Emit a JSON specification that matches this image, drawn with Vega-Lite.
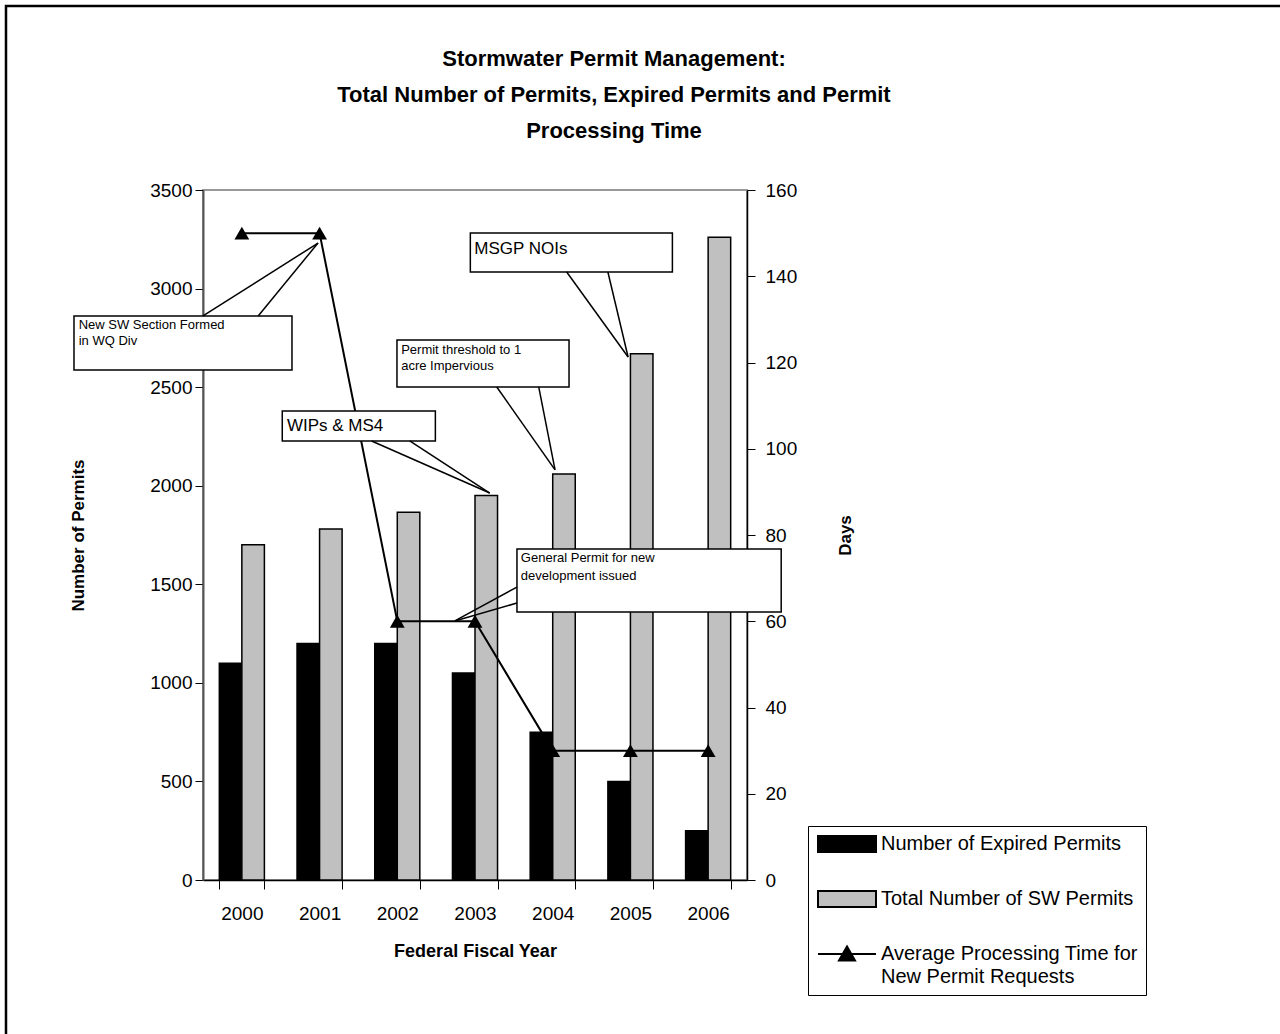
{
  "$schema": "https://vega.github.io/schema/vega-lite/v6.json",
  "width": 544,
  "height": 690,
  "autosize": {"type": "none"},
  "padding": {"left": 203, "top": 190, "right": 533, "bottom": 154},
  "background": "white",
  "title": {
    "text": ["Stormwater Permit Management:", "Total Number of Permits, Expired Permits and Permit", "Processing Time"],
    "fontSize": 22, "fontWeight": "bold", "font": "Liberation Sans", "color": "black",
    "anchor": "middle", "frame": "group", "dx": 139, "dy": 160, "baseline": "bottom", "lineHeight": 36, "offset": 0
  },
  "config": {
    "font": "Liberation Sans",
    "view": {"stroke": "#999999", "strokeWidth": 2},
    "axis": {"labelColor": "black", "titleColor": "black", "tickColor": "black", "domainColor": "black", "grid": false, "labelFont": "Liberation Sans", "titleFont": "Liberation Sans"},
    "legend": {
      "orient": "none", "legendX": 605, "legendY": 636, "title": null,
      "fillColor": "white", "strokeColor": "black", "padding": 8,
      "symbolSize": 256, "symbolStrokeColor": "black", "symbolStrokeWidth": 2,
      "labelFontSize": 20, "labelFont": "Liberation Sans", "labelColor": "black", "labelLimit": 500,
      "rowPadding": 31, "labelOffset": 45
    }
  },
  "datasets": {
    "main": [
      {"year": "2000", "series": "Number of Expired Permits", "value": 1100},
      {"year": "2001", "series": "Number of Expired Permits", "value": 1200},
      {"year": "2002", "series": "Number of Expired Permits", "value": 1200},
      {"year": "2003", "series": "Number of Expired Permits", "value": 1050},
      {"year": "2004", "series": "Number of Expired Permits", "value": 750},
      {"year": "2005", "series": "Number of Expired Permits", "value": 500},
      {"year": "2006", "series": "Number of Expired Permits", "value": 250},
      {"year": "2000", "series": "Total Number of SW Permits", "value": 1700},
      {"year": "2001", "series": "Total Number of SW Permits", "value": 1780},
      {"year": "2002", "series": "Total Number of SW Permits", "value": 1865},
      {"year": "2003", "series": "Total Number of SW Permits", "value": 1950},
      {"year": "2004", "series": "Total Number of SW Permits", "value": 2060},
      {"year": "2005", "series": "Total Number of SW Permits", "value": 2670},
      {"year": "2006", "series": "Total Number of SW Permits", "value": 3260},
      {"year": "2000", "series": "Average Processing Time for New Permit Requests", "value": 150},
      {"year": "2001", "series": "Average Processing Time for New Permit Requests", "value": 150},
      {"year": "2002", "series": "Average Processing Time for New Permit Requests", "value": 60},
      {"year": "2003", "series": "Average Processing Time for New Permit Requests", "value": 60},
      {"year": "2004", "series": "Average Processing Time for New Permit Requests", "value": 30},
      {"year": "2005", "series": "Average Processing Time for New Permit Requests", "value": 30},
      {"year": "2006", "series": "Average Processing Time for New Permit Requests", "value": 30}
    ],
    "boxes": [
      {"note": "sw", "x1": 1997.84, "x2": 2000.645, "y1": 2861, "y2": 2587},
      {"note": "wips", "x1": 2000.52, "x2": 2002.49, "y1": 2379, "y2": 2227},
      {"note": "threshold", "x1": 2001.996, "x2": 2004.21, "y1": 2739, "y2": 2501},
      {"note": "msgp", "x1": 2002.94, "x2": 2005.54, "y1": 3282, "y2": 3084},
      {"note": "general", "x1": 2003.54, "x2": 2006.94, "y1": 1679, "y2": 1359}
    ],
    "texts": [
      {"note": "sw", "x": 1997.9, "y": 2815, "text": "New SW  Section Formed"},
      {"note": "sw", "x": 1997.9, "y": 2734, "text": "in WQ Div"},
      {"note": "wips", "x": 2000.58, "y": 2303, "text": "WIPs & MS4"},
      {"note": "threshold", "x": 2002.05, "y": 2688, "text": "Permit threshold to 1"},
      {"note": "threshold", "x": 2002.05, "y": 2607, "text": "acre Impervious"},
      {"note": "msgp", "x": 2002.99, "y": 3201, "text": "MSGP NOIs"},
      {"note": "general", "x": 2003.59, "y": 1633, "text": "General Permit for new"},
      {"note": "general", "x": 2003.59, "y": 1542, "text": "development issued"}
    ],
    "pointers": [
      {"note": "sw", "x": 1999.5, "y": 2861, "x2": 2000.98, "y2": 3231},
      {"note": "sw", "x": 2000.21, "y": 2861, "x2": 2000.98, "y2": 3231},
      {"note": "wips", "x": 2001.67, "y": 2227, "x2": 2003.19, "y2": 1963},
      {"note": "wips", "x": 2002.16, "y": 2227, "x2": 2003.19, "y2": 1963},
      {"note": "threshold", "x": 2003.28, "y": 2501, "x2": 2004.03, "y2": 2080},
      {"note": "threshold", "x": 2003.82, "y": 2501, "x2": 2004.03, "y2": 2080},
      {"note": "msgp", "x": 2004.18, "y": 3084, "x2": 2004.97, "y2": 2653},
      {"note": "msgp", "x": 2004.71, "y": 3084, "x2": 2004.97, "y2": 2653},
      {"note": "general", "x": 2003.54, "y": 1486, "x2": 2002.74, "y2": 1314},
      {"note": "general", "x": 2003.54, "y": 1405, "x2": 2002.74, "y2": 1314}
    ],
    "border": [
      {"x1": 1996.965, "x2": 2014, "y1": 4433, "y2": -1000}
    ]
  },
  "layer": [
    {
      "data": {"name": "border"},
      "mark": {"type": "rect", "fill": null, "fillOpacity": 0, "stroke": "black", "strokeWidth": 2.5, "clip": false},
      "encoding": {
        "x": {"field": "x1", "type": "quantitative", "scale": {"domain": [1999.5, 2006.5], "nice": false, "zero": false}, "axis": null},
        "x2": {"field": "x2"},
        "y": {"field": "y1", "type": "quantitative", "scale": {"domain": [0, 3500], "nice": false, "zero": false}, "axis": null},
        "y2": {"field": "y2"}
      }
    },
    {
      "data": {"name": "main"},
      "transform": [{"filter": "datum.series != 'Average Processing Time for New Permit Requests'"}],
      "mark": {"type": "bar", "strokeWidth": 1.5},
      "encoding": {
        "x": {
          "field": "year", "type": "nominal",
          "scale": {"paddingInner": 0.42, "paddingOuter": 0.21},
          "axis": {"title": "Federal Fiscal Year", "labelAngle": 0, "tickBand": "extent", "tickSize": 9, "labelFontSize": 19, "labelPadding": 15, "titleFontSize": 18, "titleFontWeight": "bold", "titlePadding": 19, "domainWidth": 1.5}
        },
        "xOffset": {"field": "series", "type": "nominal", "scale": {"domain": ["Number of Expired Permits", "Total Number of SW Permits"], "paddingInner": 0, "paddingOuter": 0}},
        "y": {
          "field": "value", "type": "quantitative",
          "scale": {"domain": [0, 3500], "nice": false},
          "axis": {"title": "Number of Permits", "values": [0, 500, 1000, 1500, 2000, 2500, 3000, 3500], "format": "d", "tickSize": 8, "labelFontSize": 19, "labelPadding": 3, "titleFontSize": 17, "titleFontWeight": "bold", "titlePadding": 62, "domainColor": "#555555", "domainWidth": 2}
        },
        "stroke": {
          "field": "series", "type": "nominal",
          "scale": {"domain": ["Number of Expired Permits", "Total Number of SW Permits", "Average Processing Time for New Permit Requests"], "range": ["black", "black", "black"]},
          "legend": {
            "labelExpr": "datum.label == 'Average Processing Time for New Permit Requests' ? ['Average Processing Time for', 'New Permit Requests'] : datum.label",
            "encode": {
              "symbols": {"update": {
                "shape": {"signal": "datum.value == 'Average Processing Time for New Permit Requests' ? 'M-1,0H6.25M2.625,-0.95L3.625,0.8L1.625,0.8Z' : 'M-1,-1H6.25V1H-1Z'"},
                "fill": {"signal": "datum.value == 'Total Number of SW Permits' ? '#c0c0c0' : 'black'"},
                "stroke": {"value": "black"},
                "strokeWidth": {"value": 2},
                "opacity": {"value": 1}
              }},
              "labels": {"update": {"lineHeight": {"value": 23}}}
            }
          }
        },
        "color": {
          "field": "series", "type": "nominal",
          "scale": {"domain": ["Number of Expired Permits", "Total Number of SW Permits", "Average Processing Time for New Permit Requests"], "range": ["black", "#c0c0c0", "black"]},
          "legend": {
            "labelExpr": "datum.label == 'Average Processing Time for New Permit Requests' ? ['Average Processing Time for', 'New Permit Requests'] : datum.label",
            "encode": {
              "symbols": {"update": {
                "shape": {"signal": "datum.value == 'Average Processing Time for New Permit Requests' ? 'M-1,0H6.25M2.625,-0.95L3.625,0.8L1.625,0.8Z' : 'M-1,-1H6.25V1H-1Z'"},
                "fill": {"signal": "datum.value == 'Total Number of SW Permits' ? '#c0c0c0' : 'black'"},
                "stroke": {"value": "black"},
                "strokeWidth": {"value": 2},
                "opacity": {"value": 1}
              }},
              "labels": {"update": {"lineHeight": {"value": 23}}}
            }
          }
        }
      }
    },
    {
      "data": {"name": "main"},
      "transform": [{"filter": "datum.series == 'Average Processing Time for New Permit Requests'"}],
      "mark": {"type": "line", "strokeWidth": 2, "color": "black"},
      "encoding": {
        "x": {"field": "year", "type": "nominal", "scale": {"type": "point", "padding": 0.5}, "axis": null},
        "y": {
          "field": "value", "type": "quantitative",
          "scale": {"domain": [0, 160], "nice": false},
          "axis": {"orient": "right", "title": "Days", "values": [0, 20, 40, 60, 80, 100, 120, 140, 160], "tickSize": 8, "labelFontSize": 19, "labelPadding": 10, "titleFontSize": 17, "titleFontWeight": "bold", "titleAngle": 270, "titlePadding": 58, "domainWidth": 1.5}
        }
      }
    },
    {
      "data": {"name": "main"},
      "transform": [{"filter": "datum.series == 'Average Processing Time for New Permit Requests'"}],
      "mark": {"type": "point", "shape": "triangle-up", "filled": true, "size": 220, "opacity": 1, "color": "black"},
      "encoding": {
        "x": {"field": "year", "type": "nominal", "scale": {"type": "point", "padding": 0.5}, "axis": null},
        "y": {"field": "value", "type": "quantitative", "scale": {"domain": [0, 160], "nice": false}, "axis": null}
      }
    },
    {
      "data": {"name": "boxes"},
      "mark": {"type": "rect", "fill": "white", "stroke": "black", "strokeWidth": 1.5, "clip": false},
      "encoding": {
        "x": {"field": "x1", "type": "quantitative", "scale": {"domain": [1999.5, 2006.5], "nice": false, "zero": false}, "axis": null},
        "x2": {"field": "x2"},
        "y": {"field": "y1", "type": "quantitative", "scale": {"domain": [0, 3500], "nice": false, "zero": false}, "axis": null},
        "y2": {"field": "y2"}
      }
    },
    {
      "data": {"name": "pointers"},
      "mark": {"type": "rule", "stroke": "black", "strokeWidth": 1.5, "clip": false},
      "encoding": {
        "x": {"field": "x", "type": "quantitative", "scale": {"domain": [1999.5, 2006.5], "nice": false, "zero": false}, "axis": null},
        "x2": {"field": "x2"},
        "y": {"field": "y", "type": "quantitative", "scale": {"domain": [0, 3500], "nice": false, "zero": false}, "axis": null},
        "y2": {"field": "y2"}
      }
    },
    {
      "data": {"name": "texts"},
      "transform": [{"filter": "datum.note == 'sw' || datum.note == 'threshold' || datum.note == 'general'"}],
      "mark": {"type": "text", "align": "left", "baseline": "middle", "fontSize": 13, "font": "Liberation Sans", "color": "black", "clip": false},
      "encoding": {
        "x": {"field": "x", "type": "quantitative", "scale": {"domain": [1999.5, 2006.5], "nice": false, "zero": false}, "axis": null},
        "y": {"field": "y", "type": "quantitative", "scale": {"domain": [0, 3500], "nice": false, "zero": false}, "axis": null},
        "text": {"field": "text", "type": "nominal"}
      }
    },
    {
      "data": {"name": "texts"},
      "transform": [{"filter": "datum.note == 'wips' || datum.note == 'msgp'"}],
      "mark": {"type": "text", "align": "left", "baseline": "middle", "fontSize": 17, "font": "Liberation Sans", "color": "black", "clip": false},
      "encoding": {
        "x": {"field": "x", "type": "quantitative", "scale": {"domain": [1999.5, 2006.5], "nice": false, "zero": false}, "axis": null},
        "y": {"field": "y", "type": "quantitative", "scale": {"domain": [0, 3500], "nice": false, "zero": false}, "axis": null},
        "text": {"field": "text", "type": "nominal"}
      }
    }
  ],
  "resolve": {"scale": {"x": "independent", "y": "independent"}}
}
